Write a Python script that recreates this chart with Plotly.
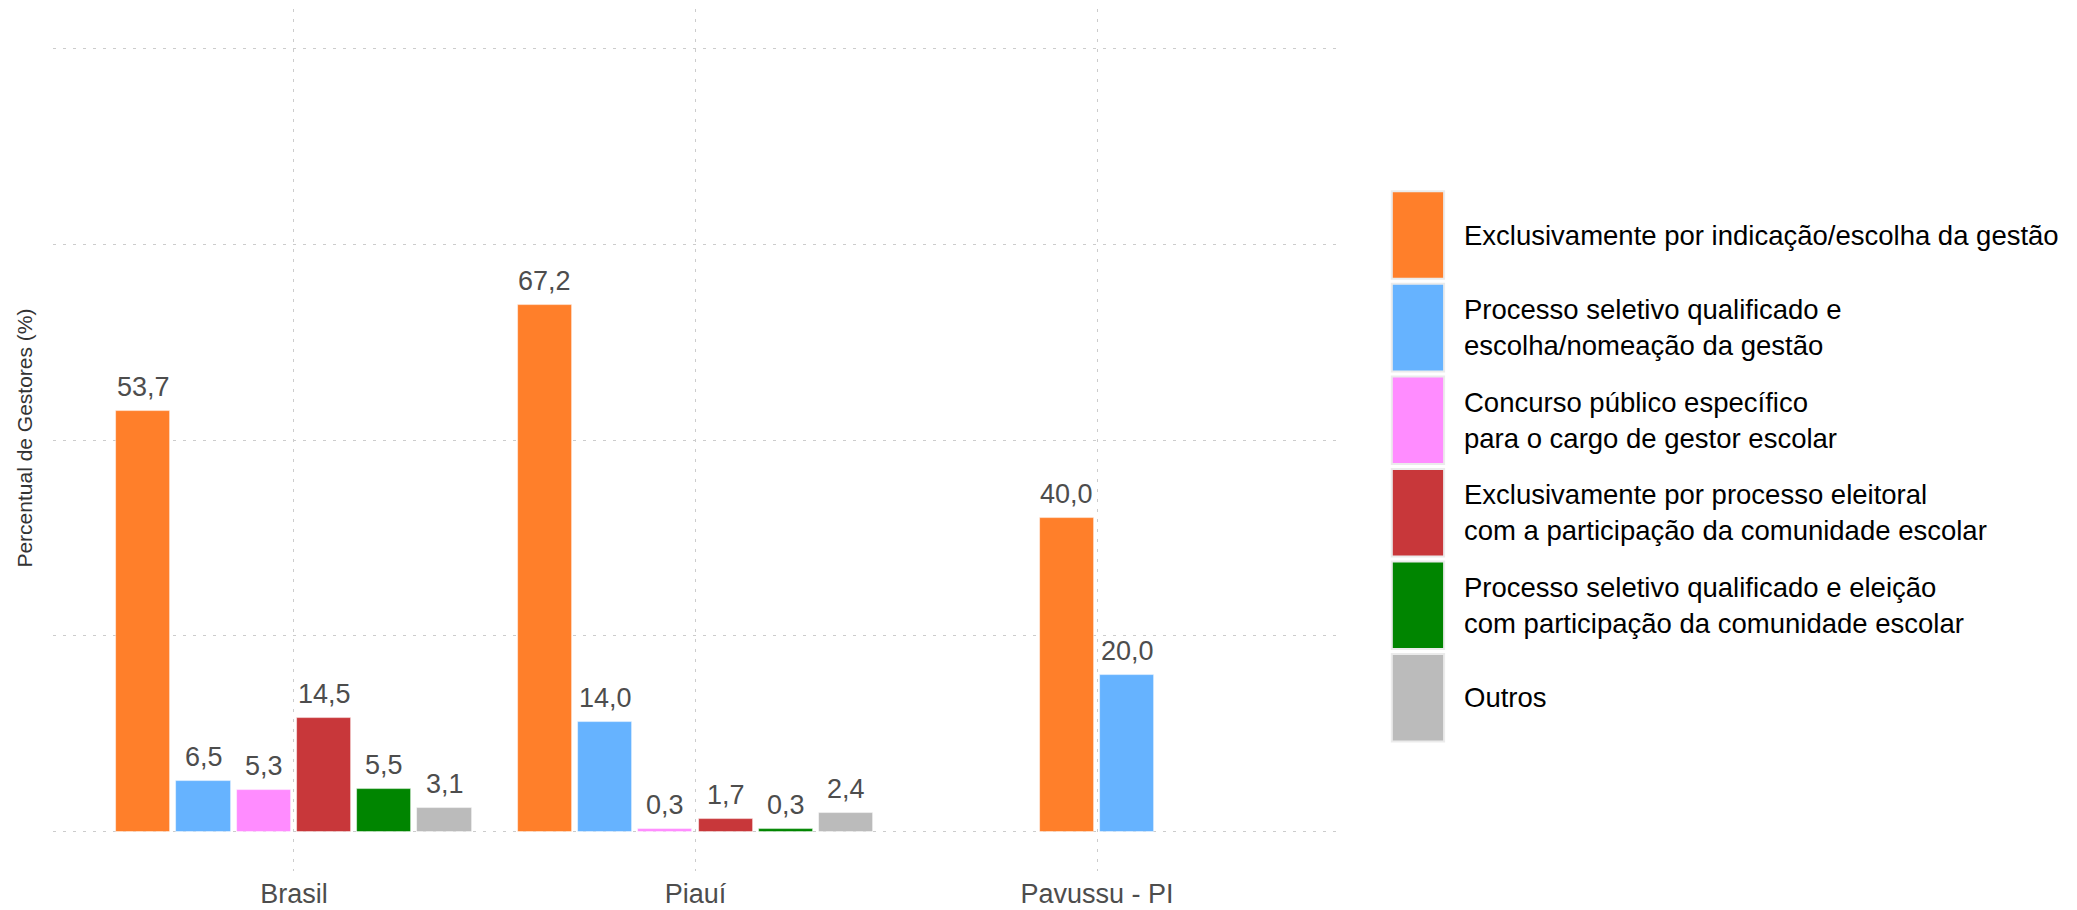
import plotly.graph_objects as go

# ---------------- data ----------------
categories = ["Brasil", "Piauí", "Pavussu - PI"]

series_names = [
    "Exclusivamente por indicação/escolha da gestão",
    "Processo seletivo qualificado e<br>escolha/nomeação da gestão",
    "Concurso público específico<br>para o cargo de gestor escolar",
    "Exclusivamente por processo eleitoral<br>com a participação da comunidade escolar",
    "Processo seletivo qualificado e eleição<br>com participação da comunidade escolar",
    "Outros",
]
series_colors = ["#FF7F2A", "#66B3FF", "#FF8CFF", "#C8373A", "#008500", "#BBBBBB"]

indicacao = [53.7, 67.2, 40.0]
seletivo_nomeacao = [6.5, 14.0, 20.0]
concurso = [5.3, 0.3, None]
eleitoral = [14.5, 1.7, None]
seletivo_eleicao = [5.5, 0.3, None]
outros = [3.1, 2.4, None]

series_values = [indicacao, seletivo_nomeacao, concurso, eleitoral, seletivo_eleicao, outros]

y_ticks = [0, 25, 50, 75, 100]

# ---------------- layout constants ----------------
OFF = 8  # page body margin offset
W, H = 2077 - OFF, 910 - OFF
ML, MR, MT, MB = 53.1 - OFF, 739.1, 9.4 - OFF, 38.8
FONT = "Liberation Sans, Arial, Helvetica, sans-serif"
DODGE_TOTAL = 0.9
n_series = len(series_values)
slot = DODGE_TOTAL / n_series
bar_w = slot * 0.9

fig = go.Figure()

# dodge positions (preserve single bar width, centred on present bars)
present = [[s for s in range(n_series) if series_values[s][j] is not None] for j in range(len(categories))]

annotations = []
for s, (name, color, vals) in enumerate(zip(series_names, series_colors, series_values)):
    xs, ys = [], []
    for j, v in enumerate(vals):
        if v is None:
            continue
        k = present[j].index(s)
        n = len(present[j])
        x = j + (k - (n - 1) / 2) * slot
        xs.append(x)
        ys.append(v)
        annotations.append(dict(
            x=x, y=v, xref="x", yref="y",
            text=f"{v:.1f}".replace(".", ","),
            showarrow=False, yanchor="bottom", xanchor="center", yshift=7,
            font=dict(family=FONT, size=27, color="#4D4D4D"),
        ))
    fig.add_trace(go.Bar(
        x=xs, y=ys, width=bar_w, name=name,
        marker=dict(color=color, line=dict(color="rgba(255,255,255,0.6)", width=0.8)),
        showlegend=False, hoverinfo="x+y",
    ))

# ---------------- custom legend ----------------
plot_w = W - ML - MR
plot_h = H - MT - MB


def px_to_paper_x(px):
    return (px - OFF - ML) / plot_w


def px_to_paper_y(py):
    return (H - MB - (py - OFF)) / plot_h


shapes = []
key_left, key_right = 1391.7, 1444.0
key_top0, key_pitch, key_h = 191.7, 92.5, 87.5
text_x = 1462
for i, (name, color) in enumerate(zip(series_names, series_colors)):
    top = key_top0 + i * key_pitch
    bot = top + key_h
    shapes.append(dict(
        type="rect", xref="paper", yref="paper",
        x0=px_to_paper_x(key_left), x1=px_to_paper_x(key_right),
        y0=px_to_paper_y(bot), y1=px_to_paper_y(top),
        fillcolor=color, line=dict(color="#EBEBEB", width=2), layer="above",
    ))
    annotations.append(dict(
        x=px_to_paper_x(text_x), y=px_to_paper_y((top + bot) / 2),
        xref="paper", yref="paper", text=name, showarrow=False,
        xanchor="left", yanchor="middle", align="left",
        font=dict(family=FONT, size=27.5, color="#000000"),
    ))

# y-axis title
annotations.append(dict(
    x=px_to_paper_x(25), y=px_to_paper_y(438), xref="paper", yref="paper",
    text="Percentual de Gestores (%)", textangle=-90, showarrow=False,
    xanchor="center", yanchor="middle",
    font=dict(family=FONT, size=21, color="#333333"),
))

grid_color = "#CCCCCC"
fig.update_layout(
    width=W, height=H,
    margin=dict(l=ML, r=MR, t=MT, b=MB, autoexpand=False),
    paper_bgcolor="white", plot_bgcolor="white",
    barmode="overlay", bargap=0,
    showlegend=False,
    font=dict(family=FONT, color="#4D4D4D"),
    xaxis=dict(
        range=[-0.6, len(categories) - 1 + 0.6],
        tickmode="array", tickvals=list(range(len(categories))), ticktext=categories,
        showgrid=True, gridcolor=grid_color, griddash="3px,7px", gridwidth=1.3,
        zeroline=False, showline=False, ticks="", ticklabelstandoff=4,
        tickfont=dict(family=FONT, size=27, color="#4D4D4D"),
    ),
    yaxis=dict(
        range=[-5, 105],
        tickmode="array", tickvals=y_ticks, showticklabels=False,
        showgrid=True, gridcolor=grid_color, griddash="3px,7px", gridwidth=1.3,
        zeroline=False, showline=False, ticks="",
    ),
    annotations=annotations,
    shapes=shapes,
)

fig.write_html("out.html")
